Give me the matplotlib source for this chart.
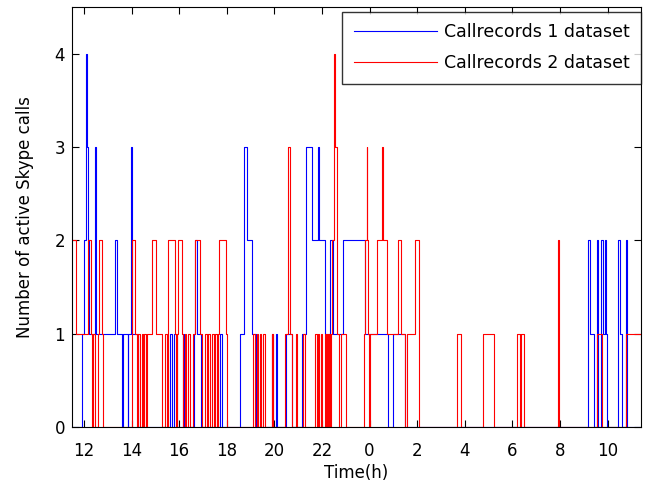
#Step plot of active Skype calls
#Import the libraries
import numpy as np
import matplotlib
matplotlib.use("Agg")
import matplotlib.pyplot as plt

plt.rcParams['font.family'] = ['DejaVu Sans']

#Callrecords 1 : change times (hours since midnight of day 1) and number of calls after each change
t1 = [11.50, 11.92, 12.02, 12.08, 12.12, 12.19, 12.23, 12.46, 12.52, 13.32, 13.37, 13.58, 13.63,
      13.83, 13.87, 13.99, 14.03, 14.28, 15.61, 15.69, 15.77, 15.89, 16.16, 16.20, 16.62, 16.66,
      16.75, 16.92, 17.71, 17.82, 18.55, 18.72, 18.84, 19.06, 19.23, 19.90, 19.96, 20.07, 20.11,
      20.47, 20.72, 21.16, 21.31, 21.58, 21.83, 21.89, 22.13, 22.34, 22.46, 22.88, 23.81, 24.77,
      24.98, 25.49, 33.19, 33.26, 33.43, 33.57, 33.61, 33.72, 33.82, 33.89, 33.94, 33.99, 34.45,
      34.52, 34.59, 34.77, 34.80, 35.40]
n1 = [0, 1, 2, 4, 3, 2, 1, 3, 1, 2, 1, 0, 1,
      0, 1, 3, 1, 0, 1, 0, 1, 0, 1, 0, 1, 2,
      1, 0, 1, 0, 1, 3, 2, 1, 0, 1, 0, 1, 0,
      1, 0, 1, 3, 2, 3, 2, 1, 2, 1, 2, 1, 0,
      1, 0, 2, 1, 0, 2, 0, 2, 1, 2, 1, 0, 2,
      1, 0, 2, 0, 0]

#Callrecords 2
t2 = [11.50, 11.66, 12.18, 12.29, 12.34, 12.40, 12.46, 12.59, 12.63, 12.76, 12.81, 14.00, 14.14,
      14.23, 14.27, 14.35, 14.42, 14.48, 14.54, 14.61, 14.65, 14.84, 15.03, 15.26, 15.40, 15.47,
      15.53, 15.55, 15.82, 15.86, 15.91, 15.95, 16.12, 16.18, 16.24, 16.29, 16.37, 16.45, 16.58,
      16.66, 16.87, 16.96, 17.08, 17.17, 17.23, 17.29, 17.38, 17.46, 17.52, 17.59, 17.63, 17.69,
      17.95, 18.00, 19.11, 19.18, 19.25, 19.33, 19.39, 19.45, 19.52, 19.61, 19.89, 19.94, 20.45,
      20.59, 20.66, 20.74, 20.91, 20.97, 21.20, 21.28, 21.71, 21.77, 21.83, 21.89, 21.96, 22.00,
      22.13, 22.16, 22.19, 22.21, 22.24, 22.27, 22.31, 22.34, 22.38, 22.44, 22.50, 22.53, 22.61,
      22.65, 22.71, 22.80, 23.02, 23.76, 23.80, 23.87, 23.90, 23.94, 23.99, 24.03, 24.31, 24.50,
      24.58, 24.74, 25.19, 25.32, 25.48, 25.55, 25.91, 26.08, 27.66, 27.83, 28.75, 29.24, 30.18,
      30.32, 30.36, 30.49, 31.92, 31.96, 33.57, 33.75, 34.77, 35.40]
n2 = [2, 1, 2, 1, 0, 1, 0, 1, 2, 1, 0, 2, 1,
      0, 1, 0, 1, 0, 1, 0, 1, 2, 1, 0, 1, 0,
      1, 2, 1, 0, 1, 2, 1, 0, 1, 0, 1, 0, 1,
      2, 1, 0, 1, 0, 1, 0, 1, 0, 1, 0, 1, 2,
      1, 0, 1, 0, 1, 0, 1, 0, 1, 0, 1, 0, 1,
      3, 1, 0, 1, 0, 1, 0, 1, 0, 1, 0, 1, 0,
      1, 0, 1, 0, 1, 0, 1, 0, 1, 2, 4, 3, 2,
      1, 0, 1, 0, 1, 2, 3, 2, 1, 0, 1, 2, 3,
      2, 1, 2, 1, 0, 1, 2, 0, 1, 0, 1, 0, 1,
      0, 1, 0, 2, 0, 1, 0, 1, 1]

#Tick positions (hours) and their clock labels
xticks = [12, 14, 16, 18, 20, 22, 24, 26, 28, 30, 32, 34]
xlabels = [str(h % 24) for h in xticks]
labels = ['Callrecords 1 dataset', 'Callrecords 2 dataset']

#Plot
fig = plt.figure(figsize=(6.46, 4.87), dpi=100)
ax = fig.add_axes([0.1115, 0.1232, 0.8808, 0.8624])
ax.step(t1, n1, where='post', color='#0000ff', lw=0.8, label=labels[0])
ax.step(t2, n2, where='post', color='#ff0000', lw=0.8, label=labels[1])

ax.set_xlim(11.5, 35.4)
ax.set_ylim(0, 4.5)
ax.set_xticks(xticks)
ax.set_xticklabels(xlabels)
ax.set_yticks([0, 1, 2, 3, 4])
ax.tick_params(direction='in', top=True, right=True, length=5, width=0.8, labelsize=12)
ax.tick_params(axis='x', pad=11)
ax.tick_params(axis='y', pad=5)
for s in ax.spines.values():
    s.set_linewidth(0.8)

ax.set_xlabel('Time(h)', fontsize=12, labelpad=3)
ax.set_ylabel('Number of active Skype calls', fontsize=12, labelpad=15)

leg = ax.legend(loc='upper right', bbox_to_anchor=(1.0, 0.988), fontsize=12.5, frameon=True,
                fancybox=False, edgecolor='black', handlelength=4.8, handletextpad=0.4,
                labelspacing=0.75, borderpad=0.65, borderaxespad=0)
leg.get_frame().set_linewidth(1.0)

plt.savefig('out.png', dpi=100)
